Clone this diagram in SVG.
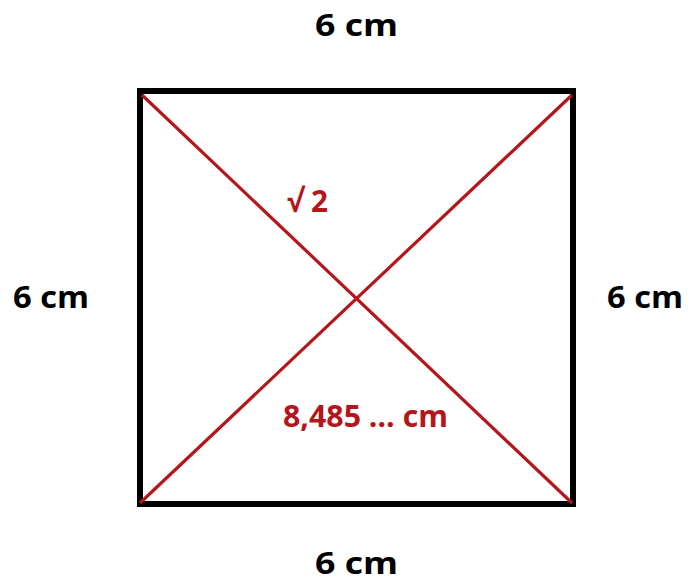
<svg xmlns="http://www.w3.org/2000/svg" width="690" height="583" viewBox="0 0 690 583">
<style>
.lbl{font-family:"Open Sans","Liberation Sans",sans-serif;font-weight:bold;font-size:31px;fill:#000}
.red{fill:#B3161B}
.diag{stroke:#B3161B;stroke-width:3.2;fill:none}
</style>
<rect width="690" height="583" fill="#fff"/>
<g id="square">
<rect x="140" y="91" width="433" height="413" fill="none" stroke="#000" stroke-width="6"/>
</g>
<g id="connectors">
<line class="diag" x1="142" y1="95" x2="572" y2="503"/>
<line class="diag" x1="572" y1="95" x2="140" y2="503"/>
</g>
<g id="label-top"><text class="lbl" x="315" y="36" textLength="83" lengthAdjust="spacingAndGlyphs">6 cm</text></g>
<g id="label-left"><text class="lbl" x="13" y="308" textLength="76" lengthAdjust="spacingAndGlyphs">6 cm</text></g>
<g id="label-right"><text class="lbl" x="607" y="308" textLength="76" lengthAdjust="spacingAndGlyphs">6 cm</text></g>
<g id="label-bottom"><text class="lbl" x="315" y="574" textLength="83" lengthAdjust="spacingAndGlyphs">6 cm</text></g>
<g id="label-sqrt"><text class="lbl red" x="287" y="212" textLength="41" lengthAdjust="spacingAndGlyphs">√ 2</text></g>
<g id="label-diag"><text class="lbl red" x="283" y="427" textLength="165" lengthAdjust="spacingAndGlyphs">8,485 … cm</text></g>
</svg>
